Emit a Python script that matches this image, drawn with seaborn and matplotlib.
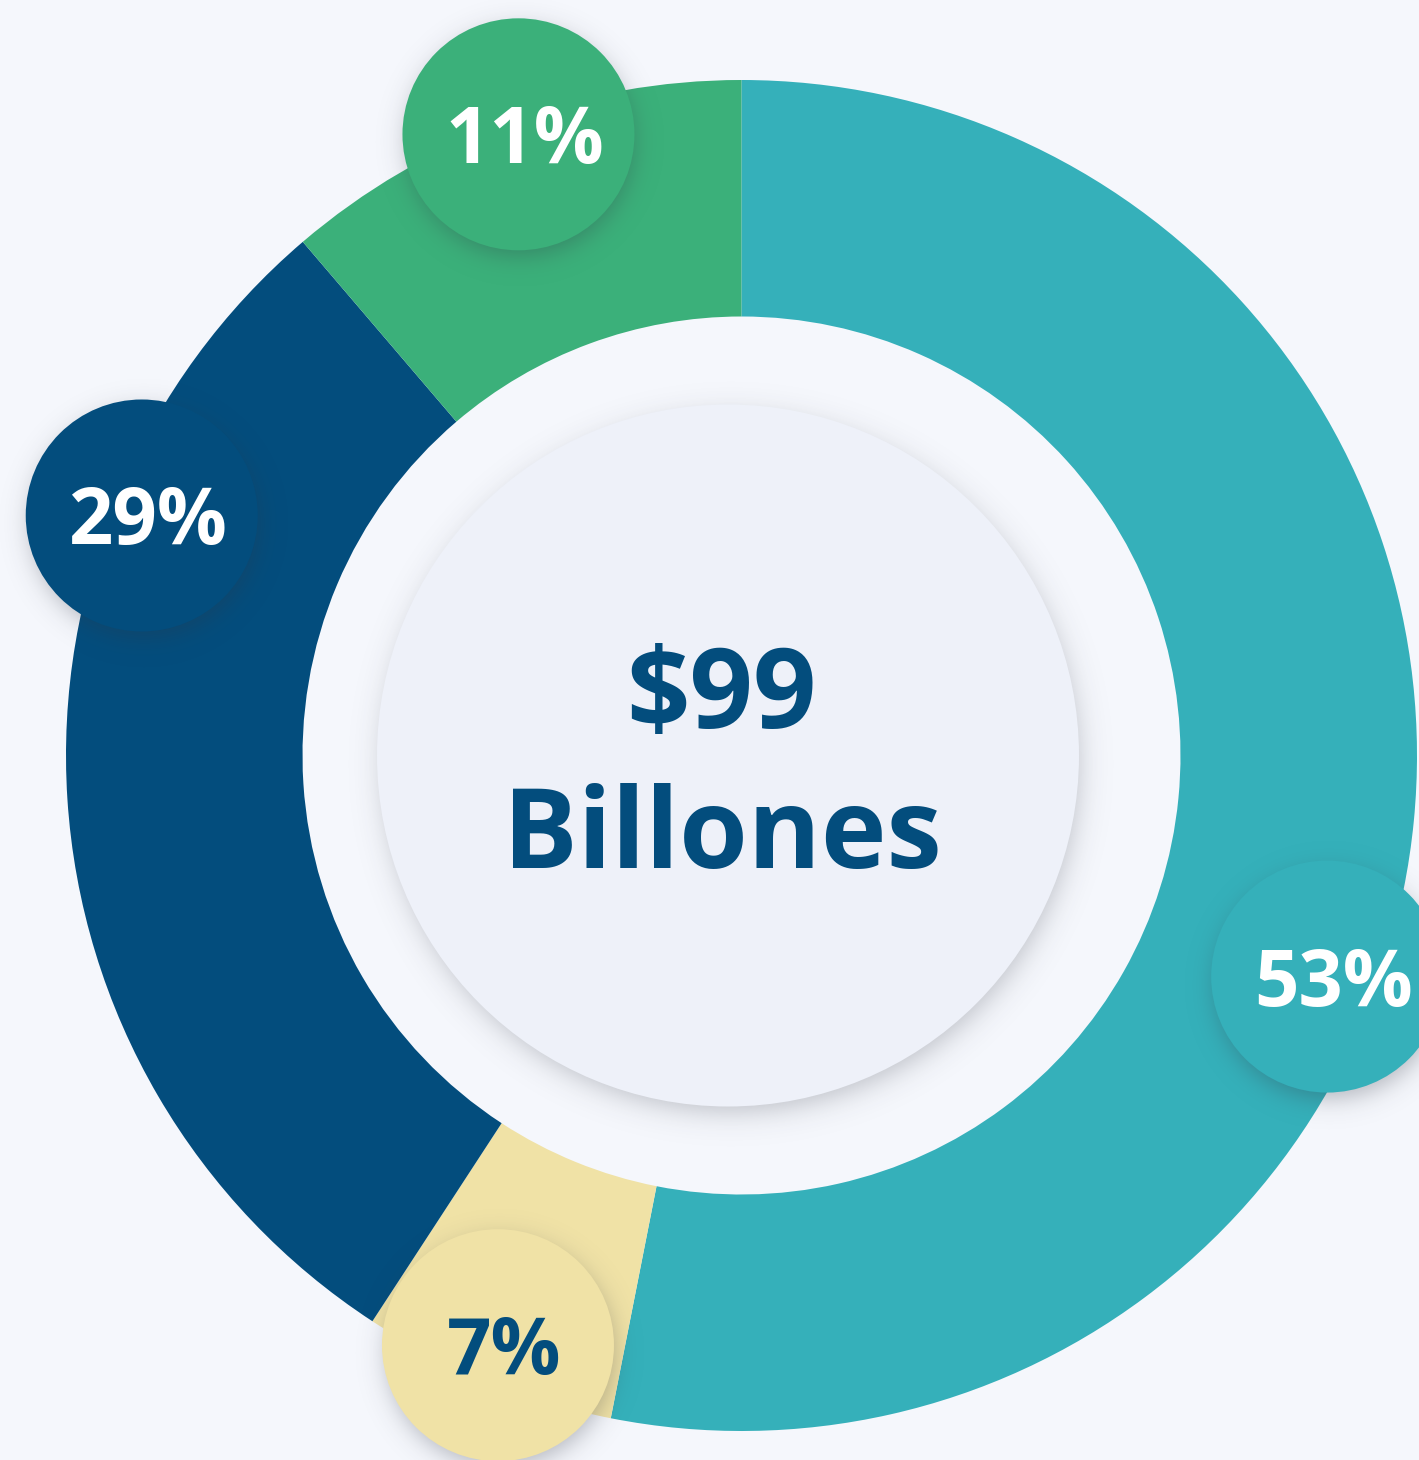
import matplotlib
matplotlib.use("Agg")
import numpy as np
import matplotlib.pyplot as plt
import seaborn as sns
from matplotlib.patches import Circle

# data (slice sizes as drawn in the picture, labels as printed)
shares = [53.1, 6.1, 29.55, 11.25]
labels = ["53%", "7%", "29%", "11%"]
colors = ["#35b0ba", "#f0e2a6", "#034d7d", "#3bb07a"]
label_colors = ["white", "#034d7d", "white", "white"]
total_value = "$99"
total_unit = "Billones"

bg = "#f5f7fc"
center_fill = "#eef1f9"
navy = "#034d7d"

sns.set_style("white", {"axes.facecolor": bg, "figure.facecolor": bg})
plt.rcParams['font.family'] = ['Open Sans', 'DejaVu Sans']

W, H = 1419, 1460
fig = plt.figure(figsize=(W / 100, H / 100), dpi=100)
ax = fig.add_axes([0, 0, 1, 1])

cx, cy = 741.5, H - 755.5
r_out, r_in = 675.5, 439

wedges, _ = ax.pie(shares, colors=colors, startangle=90, counterclock=False,
                   radius=r_out, center=(cx, cy), frame=True,
                   wedgeprops=dict(width=r_out - r_in, linewidth=0))
for w in wedges:
    w.set_zorder(1)


def soft_shadow(x, y, r, blur, alpha, dx=0, dy=-6, z=2):
    # blurred disc drawn as an image (logistic approx of a gaussian edge)
    pad = r + 4 * blur
    n = int(2 * pad)
    xs = np.linspace(-pad, pad, n)
    X, Y = np.meshgrid(xs, xs)
    d = np.hypot(X, Y)
    a = alpha / (1 + np.exp(1.702 * (d - r) / blur))
    img = np.zeros((n, n, 4))
    img[..., :3] = np.array([0.19, 0.21, 0.26])
    img[..., 3] = a
    ax.imshow(img, extent=(x + dx - pad, x + dx + pad, y + dy - pad, y + dy + pad),
              origin='lower', interpolation='bilinear', zorder=z)


# center disc
ccx = 728
soft_shadow(ccx, cy, 348, 14, 0.28, dx=3, dy=-9, z=2)
ax.add_patch(Circle((ccx, cy), 351, color=center_fill, lw=0, zorder=3))
ax.text(721, H - 728, total_value, ha='center', va='baseline', fontsize=80,
        fontweight='bold', color=navy, zorder=4)
ax.text(722, H - 868, total_unit, ha='center', va='baseline', fontsize=80,
        fontweight='bold', color=navy, zorder=4)

# label bubbles, nudged from the wedge middle
nudge = [-15.1, -0.3, -25.5, -0.5]
dist = [626, 638, 646, 660]
bub_r = 116
for w, lab, col, tc, nd, d in zip(wedges, labels, colors, label_colors, nudge, dist):
    mid = np.deg2rad((w.theta1 + w.theta2) / 2 + nd)
    bx = cx + d * np.cos(mid)
    by = cy + d * np.sin(mid)
    soft_shadow(bx, by, bub_r - 2, 12, 0.32, dx=2, dy=-8, z=5)
    ax.add_patch(Circle((bx, by), bub_r, color=col, lw=0, zorder=6))
    ax.text(bx + 6, by - 29, lab, ha='center', va='baseline', fontsize=56,
            fontweight='bold', color=tc, zorder=7)

ax.set_xlim(0, W)
ax.set_ylim(0, H)
ax.set_aspect('equal')
ax.axis('off')

fig.savefig("out.png", dpi=100, facecolor=bg)
